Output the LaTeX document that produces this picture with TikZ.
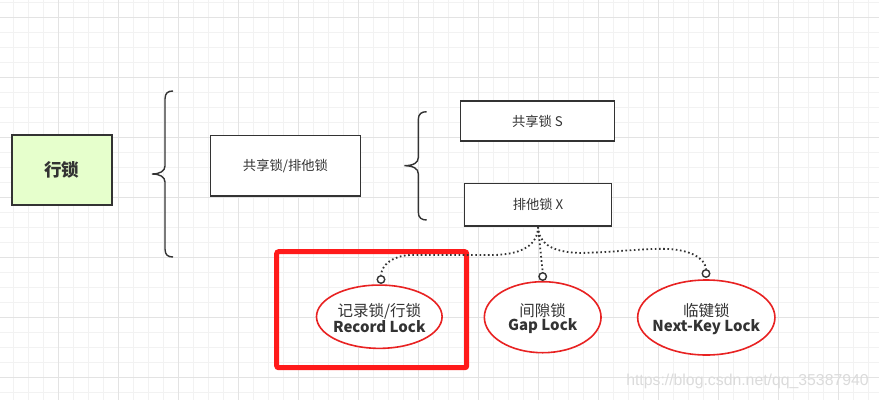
\documentclass[tikz,border=0pt]{standalone}
\usepackage{fontspec}
\setmainfont{Noto Sans CJK SC}
\newfontfamily\wmfont{Liberation Sans}
\usetikzlibrary{shapes.geometric}
\definecolor{ink}{HTML}{333333}
\definecolor{lgreen}{HTML}{E6FFCC}
\definecolor{gminor}{HTML}{F2F2F2}
\definecolor{gmajor}{HTML}{E3E3E3}
\definecolor{hired}{HTML}{FF1A1A}
\definecolor{ellred}{HTML}{E82222}
\tikzset{
  box/.style={draw=ink, line width=1.4pt, fill=white, rectangle, inner sep=0pt, text=ink},
  ell/.style={draw=ellred, line width=1.6pt, fill=white, ellipse, inner sep=0pt},
  elltext/.style={text=ink, align=center, inner sep=0pt, yshift=-1.5pt},
  port/.style={draw=ink, line width=1.4pt, fill=white, circle, minimum size=7.5pt, inner sep=0pt},
  bracepath/.style={draw=ink, line width=1.4pt},
  dotline/.style={draw=ink, line width=1.8pt, dash pattern=on 1.6pt off 2.6pt},
  hilite/.style={draw=hired, line width=5pt, rounded corners=2pt, rectangle, inner sep=0pt}
}
\newcommand{\twolines}[2]{{\fontsize{15.5}{17.5}\selectfont #1}\\{\fontsize{15}{17.5}\selectfont\bfseries #2}}
\begin{document}
\begin{tikzpicture}[x=1pt,y=-1pt]
\useasboundingbox (0,0) rectangle (879,400);
\fill[white] (0,0) rectangle (879,400);
% grid
\foreach \i in {0,...,58} {\draw[gminor, line width=0.8pt] ({13.3+15*\i},0) -- ++(0,400);}
\foreach \i in {0,...,26} {\draw[gminor, line width=0.8pt] (0,{2.3+15*\i}) -- ++(879,0);}
\foreach \i in {0,...,14} {\draw[gmajor, line width=0.8pt] ({58.3+60*\i},0) -- ++(0,400);}
\foreach \i in {0,...,6} {\draw[gmajor, line width=0.8pt] (0,{17.3+60*\i}) -- ++(879,0);}

% boxes
\node[box, fill=lgreen, minimum width=100pt, minimum height=70pt] (row) at (62,170)
  {\bfseries\fontsize{17.5}{20}\selectfont 行锁};
\node[box, minimum width=149.6pt, minimum height=60.3pt] (sx) at (285.5,165.9)
  {\fontsize{13.3}{15}\selectfont 共享锁/排他锁};
\node[box, minimum width=153.6pt, minimum height=40pt] (s) at (537.5,121)
  {\fontsize{13.3}{15}\selectfont 共享锁 S};
\node[box, minimum width=146.6pt, minimum height=42.3pt] (x) at (538,204.9)
  {\fontsize{13.3}{15}\selectfont 排他锁 X};

% braces
\draw[bracepath] (173,91) .. controls (168,91) and (165,93) .. (165,99) -- (165,166)
  .. controls (165,171) and (160,174) .. (152,174)
  .. controls (160,174) and (165,177) .. (165,182) -- (165,249)
  .. controls (165,255) and (168,257) .. (173,257);
\draw[bracepath] (426.7,111.7) .. controls (421.7,111.7) and (418.3,113.7) .. (418.3,119.7) -- (418.3,157.7)
  .. controls (418.3,162.7) and (413.3,165.7) .. (404.3,165.7)
  .. controls (413.3,165.7) and (418.3,168.7) .. (418.3,173.7) -- (418.3,212)
  .. controls (418.3,218) and (421.7,220) .. (426.7,220);

% highlight rectangle
\node[hilite, minimum width=190pt, minimum height=116pt] (hl) at (371.7,309.7) {};

% ellipses
\node[ell, minimum width=125.6pt, minimum height=63.3pt] (rec) at (379.3,316.7) {};
\node[ell, minimum width=116.7pt, minimum height=71pt] (gap) at (542.7,317.2) {};
\node[ell, minimum width=137.3pt, minimum height=75pt] (nk) at (706.3,317.5) {};
\node[elltext] (rect) at (rec.center) {\twolines{记录锁/行锁}{Record Lock}};
\node[elltext] (gapt) at (gap.center) {\twolines{间隙锁}{Gap Lock}};
\node[elltext] (nkt) at (nk.center) {\twolines{临键锁}{Next-Key Lock}};

% ports
\node[port] (c1) at (381,279.5) {};
\node[port] (c2) at (542.7,276.5) {};
\node[port] (c3) at (706,273.5) {};

% connectors
\draw[dotline] (x.south) .. controls (538,245) and (522,254) .. (495,255) -- (410,255)
  .. controls (392,256) and (382,265) .. (c1.north);
\draw[dotline] (x.south) -- (c2.north);
\draw[dotline] (x.south) .. controls (539,244) and (552,252) .. (580,253)
  .. controls (620,252) and (645,248) .. (668,249)
  .. controls (690,250) and (705,258) .. (c3.north);

% watermark
\node[text=gray!28, inner sep=0pt] (wm) at (747.5,381.5)
  {\wmfont\fontsize{15.8}{18}\selectfont https://blog.csdn.net/qq\_35387940};
\end{tikzpicture}
\end{document}
